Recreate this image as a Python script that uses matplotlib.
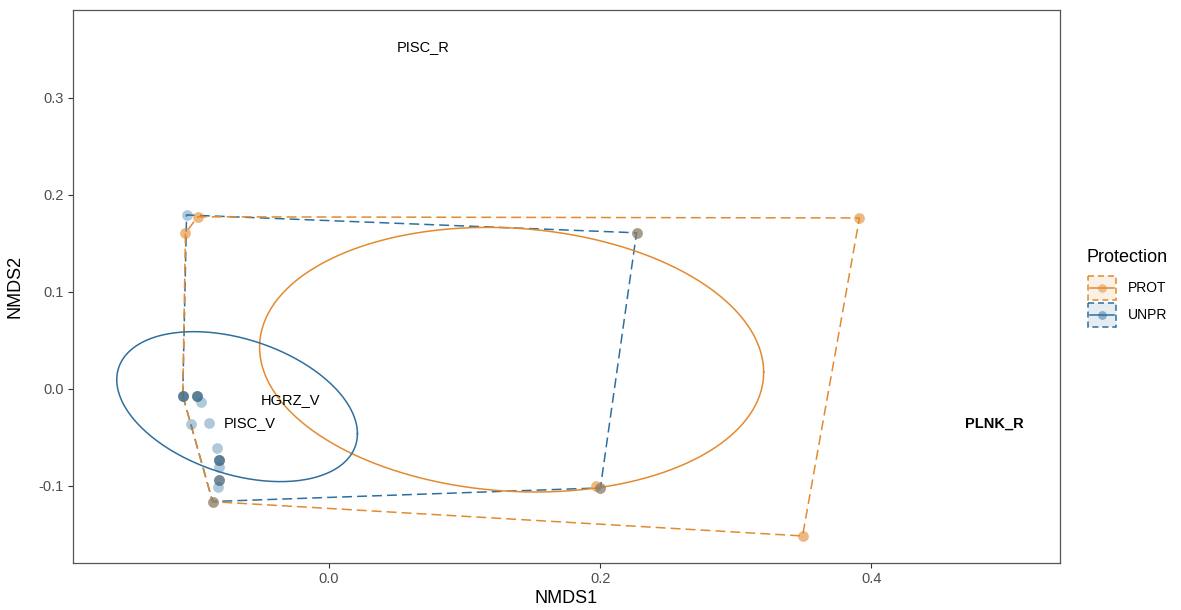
import numpy as np
import matplotlib
matplotlib.use("Agg")
import matplotlib.pyplot as plt
from matplotlib.patches import Rectangle

plt.rcParams['font.family'] = ['Liberation Sans', 'DejaVu Sans']

# ---- site scores (NMDS1, NMDS2) by protection status ----
unpr_x = [-0.1052, 0.2269, 0.2002, -0.0860,
          -0.1080, -0.1080, -0.1080, -0.0976, -0.0976, -0.0976,
          -0.0944, -0.1020, -0.0890, -0.0824,
          -0.0809, -0.0809, -0.0809, -0.0814, -0.0814, -0.0814, -0.0821]
unpr_y = [0.1794, 0.1610, -0.1020, -0.1160,
          -0.0069, -0.0069, -0.0069, -0.0069, -0.0069, -0.0069,
          -0.0137, -0.0360, -0.0354, -0.0605,
          -0.0732, -0.0732, -0.0732, -0.0801, -0.0938, -0.0938, -0.1007]

prot_x = [-0.1060, -0.0970, 0.3914, 0.2269, 0.1973, 0.2002, 0.3494, -0.0860,
          -0.1080, -0.0976, -0.0809, -0.0814]
prot_y = [0.1608, 0.1775, 0.1763, 0.1608, -0.1000, -0.1020, -0.1515, -0.1162,
          -0.0069, -0.0069, -0.0732, -0.0938]

# ---- 95% ellipses: centre, half-extent in x / y, correlation ----
ell_prot = dict(cx=0.1347, cy=0.0302, sx=0.1860, sy=0.1364, rho=-0.095)
ell_unpr = dict(cx=-0.0679, cy=-0.0182, sx=0.0888, sy=0.0773, rho=-0.36)

# ---- species scores ----
sp_names = ["PISC_R", "HGRZ_V", "PISC_V", "PLNK_R"]
sp_x = [0.0694, -0.0288, -0.0583, 0.4908]
sp_y = [0.3526, -0.0113, -0.0350, -0.0360]
sp_bold = [False, False, False, True]

groups = ["PROT", "UNPR"]
colors = {"PROT": "#E38A2E", "UNPR": "#2E6F9E"}

x_ticks = [0.0, 0.2, 0.4]
y_ticks = [-0.1, 0.0, 0.1, 0.2, 0.3]


def convex_hull(xs, ys):
    pts = sorted(set(zip(xs, ys)))
    if len(pts) < 3:
        return pts

    def cross(o, a, b):
        return (a[0] - o[0]) * (b[1] - o[1]) - (a[1] - o[1]) * (b[0] - o[0])

    lower, upper = [], []
    for p in pts:
        while len(lower) >= 2 and cross(lower[-2], lower[-1], p) <= 0:
            lower.pop()
        lower.append(p)
    for p in reversed(pts):
        while len(upper) >= 2 and cross(upper[-2], upper[-1], p) <= 0:
            upper.pop()
        upper.append(p)
    return lower[:-1] + upper[:-1]


def ellipse_path(e, n=300):
    t = np.linspace(0, 2 * np.pi, n)
    d = np.arccos(e["rho"])
    return e["cx"] + e["sx"] * np.cos(t), e["cy"] + e["sy"] * np.cos(t + d)


W, H = 1181, 610
fig = plt.figure(figsize=(W / 100, H / 100), dpi=100)
L, R, T, B = 73, 1060, 10, 563
ax = fig.add_axes([L / W, 1 - B / H, (R - L) / W, (B - T) / H])

dash = (0, (6.5, 3.3))
lw = 1.1

# hulls
for g, xs, ys in [("UNPR", unpr_x, unpr_y), ("PROT", prot_x, prot_y)]:
    hull = convex_hull(xs, ys)
    hx = [p[0] for p in hull] + [hull[0][0]]
    hy = [p[1] for p in hull] + [hull[0][1]]
    ax.plot(hx, hy, color=colors[g], lw=lw, linestyle=dash, zorder=2)

# ellipses
for g, e in [("PROT", ell_prot), ("UNPR", ell_unpr)]:
    ex, ey = ellipse_path(e)
    ax.plot(ex, ey, color=colors[g], lw=lw, zorder=3)

# points
ax.scatter(prot_x, prot_y, s=60, color=colors["PROT"], alpha=0.6,
           linewidths=0, zorder=4)
ax.scatter(unpr_x, unpr_y, s=60, color=colors["UNPR"], alpha=0.38,
           linewidths=0, zorder=5)

# species labels
for name, x, y, b in zip(sp_names, sp_x, sp_y, sp_bold):
    ax.text(x, y, name, ha="center", va="center", fontsize=10.5,
            fontweight="bold" if b else "normal", color="black", zorder=6)

ax.set_xlim(-0.1890, 0.5394)
ax.set_ylim(-0.1794, 0.3907)
ax.set_xticks(x_ticks)
ax.set_xticklabels([f"{v:.1f}" for v in x_ticks])
ax.set_yticks(y_ticks)
ax.set_yticklabels([f"{v:.1f}" for v in y_ticks])
ax.tick_params(axis="both", length=3.5, width=0.8, color="#333333",
               labelcolor="#4D4D4D", labelsize=10.5, pad=3)
for s in ax.spines.values():
    s.set_color("#555555")
    s.set_linewidth(0.9)
ax.set_xlabel("NMDS1", fontsize=13, labelpad=3)
ax.set_ylabel("NMDS2", fontsize=13, labelpad=11)

# legend
lg = fig.add_axes([0, 0, 1, 1], facecolor="none")
lg.set_xlim(0, W)
lg.set_ylim(H, 0)
lg.axis("off")
lg.text(1086, 257, "Protection", fontsize=13, ha="left", va="center")
key_x0, key_w, key_h = 1088, 28, 24
for i, g in enumerate(groups):
    cy = 288 + i * 27
    lg.add_patch(Rectangle((key_x0, cy - key_h / 2), key_w, key_h,
                           facecolor=colors[g], alpha=0.12, edgecolor="none"))
    lg.add_patch(Rectangle((key_x0, cy - key_h / 2), key_w, key_h,
                           facecolor="none", edgecolor=colors[g], lw=lw,
                           linestyle=(0, (4, 2.5))))
    lg.plot([key_x0 + 2, key_x0 + key_w - 2], [cy, cy], color=colors[g], lw=lw)
    lg.scatter([key_x0 + key_w / 2], [cy], s=40, color=colors[g], alpha=0.5,
               linewidths=0)
    lg.text(1128, cy, g, fontsize=10, ha="left", va="center")

fig.savefig("out.png", dpi=100)
